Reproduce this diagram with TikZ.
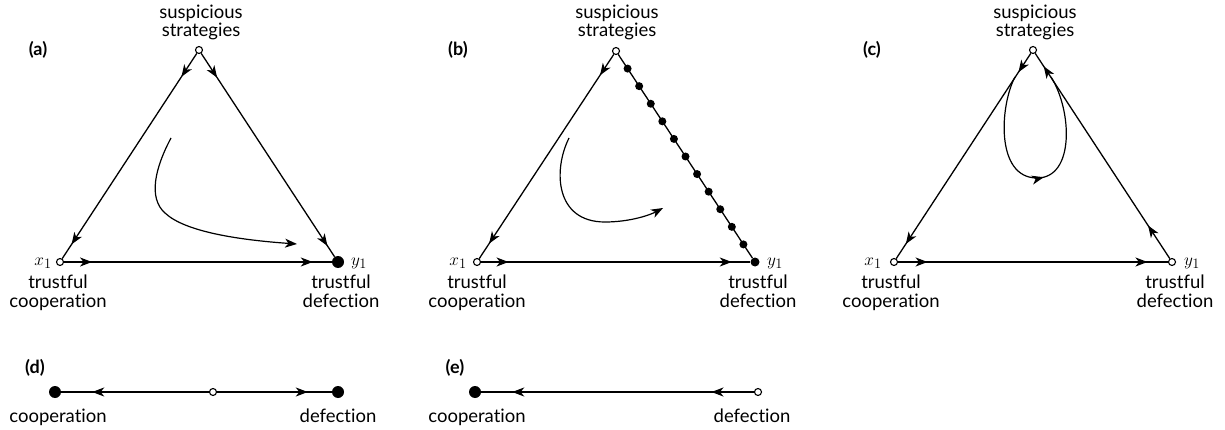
\documentclass[tikz,border=0pt]{standalone}
\usepackage{fontspec}
\setmainfont{Lato}[Ligatures=NoCommon]
\usetikzlibrary{arrows.meta,decorations.markings,calc}
\tikzset{
  >={Stealth[length=12pt,width=9pt,inset=3.5pt]},
  edge/.style={line width=1.3pt},
  traj/.style={line width=1.2pt},
  twoarr/.style 2 args={postaction={decorate,decoration={markings,
      mark=at position #1 with {\arrow{>}},
      mark=at position #2 with {\arrow{>}}}}},
  onearr/.style={postaction={decorate,decoration={markings,
      mark=at position #1 with {\arrow{>}}}}},
  opn/.style={circle,draw,fill=white,line width=1.1pt,inner sep=0pt,minimum size=7pt},
  bigdot/.style={circle,fill=black,inner sep=0pt,minimum size=12pt},
  meddot/.style={circle,fill=black,inner sep=0pt,minimum size=9pt},
  smalldot/.style={circle,fill=black,inner sep=0pt,minimum size=8pt},
  toplbl/.style={font=\fontsize{18.5}{15.5}\selectfont, align=center, inner sep=0pt},
  lbl/.style={font=\fontsize{18.5}{19}\selectfont, align=center, inner sep=0pt},
  plab/.style={font=\bfseries\fontsize{18}{19}\selectfont, inner sep=0pt},
  mlab/.style={font=\fontsize{19}{19}\selectfont, inner sep=0pt},
}
\begin{document}
\begin{tikzpicture}[x=1pt,y=-1pt]
\useasboundingbox (0,0) rectangle (1225,430);

% ---------- (a)
\node[opn] (aT) at (199,50) {};
\node[opn] (aX) at (60,262) {};
\node[bigdot] (aY) at (338,262) {};
\draw[edge,twoarr={28pt}{-17pt}] (aT) -- (aX);
\draw[edge,twoarr={29pt}{-13pt}] (aT) -- (aY);
\draw[edge,twoarr={28pt}{-19pt}] (aX) -- (aY);
\draw[traj,->] (171,138) .. controls (155,168) and (148,198) .. (165,213)
   .. controls (185,232) and (240,240) .. (297,244);
\node[toplbl,anchor=south] (aTl) at (201,40) {suspicious\\strategies};
\node[lbl,anchor=north] (aXl) at (58,275) {trustful\\cooperation};
\node[lbl,anchor=north] (aYl) at (341,275) {trustful\\defection};
\node[mlab] (aXm) at (43,263) {$x_1$};
\node[mlab] (aYm) at (359,263) {$y_1$};
\node[plab] (aP) at (38,50) {(a)};

% ---------- (b)
\node[opn] (bT) at (616,51) {};
\node[opn] (bX) at (477,262) {};
\node[meddot] (bY) at (755,262) {};
\draw[edge,twoarr={25pt}{-18pt}] (bT) -- (bX);
\draw[edge] (bT) -- (bY);
\draw[edge,twoarr={27.5pt}{-18.5pt}] (bX) -- (bY);
\foreach \i in {1,...,11} {\node[smalldot] (bd\i) at ($(bT)!\i/12!(bY)$) {};}
\draw[traj,->] (569,138) .. controls (553,170) and (555,222) .. (605,222)
   .. controls (630,222) and (650,215) .. (663,208);
\node[toplbl,anchor=south] (bTl) at (617,40) {suspicious\\strategies};
\node[lbl,anchor=north] (bXl) at (477,275) {trustful\\cooperation};
\node[lbl,anchor=north] (bYl) at (758,275) {trustful\\defection};
\node[mlab] (bXm) at (458,263) {$x_1$};
\node[mlab] (bYm) at (775,263) {$y_1$};
\node[plab] (bP) at (458,50) {(b)};

% ---------- (c)
\node[opn] (cT) at (1033,50) {};
\node[opn] (cX) at (894,262) {};
\node[opn] (cY) at (1172,262) {};
\draw[edge,twoarr={22.5pt}{-17.5pt}] (cT) -- (cX);
\draw[edge,twoarr={39.5pt}{-15.5pt}] (cY) -- (cT);
\draw[edge,twoarr={29.5pt}{-20.5pt}] (cX) -- (cY);
\draw[traj,onearr=0.53] (1015,77) .. controls (1000,105) and (995,178) .. (1037,178)
   .. controls (1075,178) and (1072,110) .. (1051,77);
\node[toplbl,anchor=south] (cTl) at (1035,40) {suspicious\\strategies};
\node[lbl,anchor=north] (cXl) at (891,275) {trustful\\cooperation};
\node[lbl,anchor=north] (cYl) at (1175,275) {trustful\\defection};
\node[mlab] (cXm) at (873,263) {$x_1$};
\node[mlab] (cYm) at (1192,263) {$y_1$};
\node[plab] (cP) at (872,50) {(c)};

% ---------- (d)
\node[bigdot] (dC) at (55,392) {};
\node[opn] (dM) at (213,392) {};
\node[bigdot] (dD) at (338,392) {};
\draw[edge,onearr={-31pt}] (dM) -- (dC);
\draw[edge,onearr={-24pt}] (dM) -- (dD);
\node[lbl,anchor=base] (dCl) at (58,422) {cooperation};
\node[lbl,anchor=base] (dDl) at (338,422) {defection};
\node[plab] (dP) at (35,368) {(d)};

% ---------- (e)
\node[bigdot] (eC) at (475,392) {};
\node[opn] (eD) at (758,392) {};
\draw[edge,twoarr={42.5pt}{-31pt}] (eD) -- (eC);
\node[lbl,anchor=base] (eCl) at (477,422) {cooperation};
\node[lbl,anchor=base] (eDl) at (752,422) {defection};
\node[plab] (eP) at (455,368) {(e)};
\end{tikzpicture}
\end{document}
